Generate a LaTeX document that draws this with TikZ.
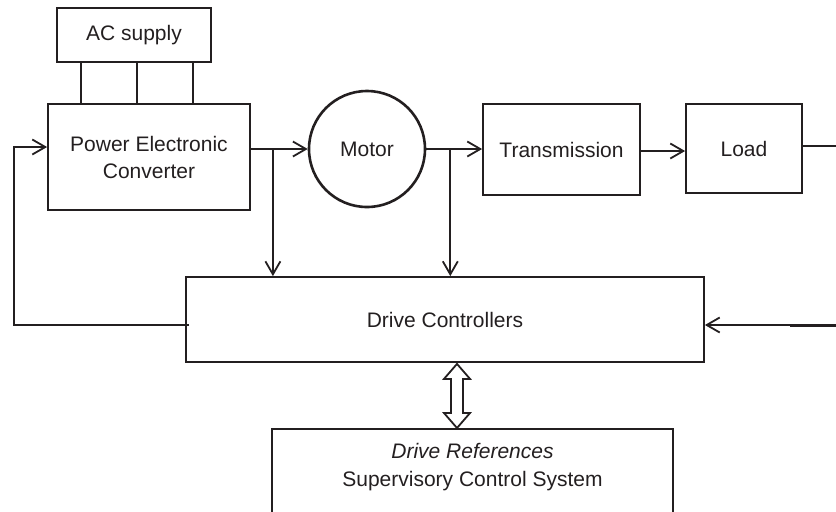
\documentclass[tikz,border=0pt]{standalone}
\usepackage{fontspec}
\setmainfont{Liberation Sans}
\usetikzlibrary{calc,arrows.meta}
\definecolor{ink}{RGB}{35,31,32}
\begin{document}
\begin{tikzpicture}[x=0.5pt,y=-0.5pt,
  every node/.style={font=\fontsize{10.5}{13.5}\selectfont, text=ink},
  box/.style={draw=ink, line width=0.9pt, rectangle, inner sep=0pt, align=center},
  conn/.style={draw=ink, line width=0.9pt},
  arr/.style={conn, -{Straight Barb[length=6.5pt,width=7.5pt,line width=0.9pt]}}]
\clip (0,0) rectangle (836,511);
\useasboundingbox (0,0) rectangle (836,511);
% nodes
\node[box, minimum width=77pt, minimum height=27pt] (AC) at (134,35) {AC supply};
\node[box, minimum width=101pt, minimum height=53pt] (PEC) at (149,157) {Power Electronic\\Converter};
\node[draw=ink, line width=1.3pt, circle, minimum size=58pt, inner sep=0pt] (M) at (367,149) {Motor};
\node[box, minimum width=78.5pt, minimum height=45.5pt] (T) at (561.5,149.5) {Transmission};
\node[box, minimum width=58pt, minimum height=44.5pt] (L) at (744,148.5) {Load};
\node[box, minimum width=259pt, minimum height=42.5pt] (DC) at (445,319.5) {Drive Controllers};
\node[box, anchor=north, minimum width=200.5pt, minimum height=80pt,
  label={[anchor=north, yshift=-4pt, align=center, font=\fontsize{10.5}{14}\selectfont]north:{\itshape Drive References}\\Supervisory Control System}] (SCS) at (472.5,428) {};
% AC supply to converter (three phases)
\foreach \f/\n in {0.162/a,0.519/b,0.877/c}{
  \coordinate (ph\n) at ($(AC.south west)!\f!(AC.south east)$);
  \draw[conn] (ph\n) -- (ph\n |- PEC.north);
}
% converter -> motor
\coordinate (po) at (PEC.east |- M.west);
\draw[arr] (po) -- (M.west);
\coordinate (b1) at ($(po)+(22,0)$);
\draw[arr] (b1) -- (b1 |- DC.north);
% motor -> transmission
\draw[arr] (M.east) -- (M.east -| T.west);
\coordinate (b2) at ($(M.east)+(24,0)$);
\draw[arr] (b2) -- (b2 |- DC.north);
% transmission -> load
\coordinate (tl) at ($(T.east)+(0,1.5)$);
\draw[arr] (tl) -- (tl -| L.west);
% load output
\coordinate (lo) at (836,146);
\draw[conn] (lo -| L.east) -- (lo);
% right input into drive controllers
\coordinate (rin) at (836,325);
\draw[arr] (rin) -- (rin -| DC.east);
\coordinate (rth) at (790,325);
\draw[conn, line width=1.5pt] (rth) -- (rin);
% feedback to converter
\coordinate (lf) at (14,325);
\draw[arr] ($(lf -| DC.west)+(4,0)$) -- (lf) |- ($(PEC.west)+(0,-10)$);
% bidirectional wide arrow
\coordinate (ta) at ($(DC.south)+(12,1)$);
\coordinate (tb) at (ta |- SCS.north);
\draw[conn, fill=white] (ta) -- ++(13,15) -- ++(-7,0) -- ($(tb)+(6,-15)$) -- ++(7,0) -- (tb)
  -- ++(-13,-15) -- ++(7,0) -- ($(ta)+(-6,15)$) -- ++(-7,0) -- cycle;
\end{tikzpicture}
\end{document}
